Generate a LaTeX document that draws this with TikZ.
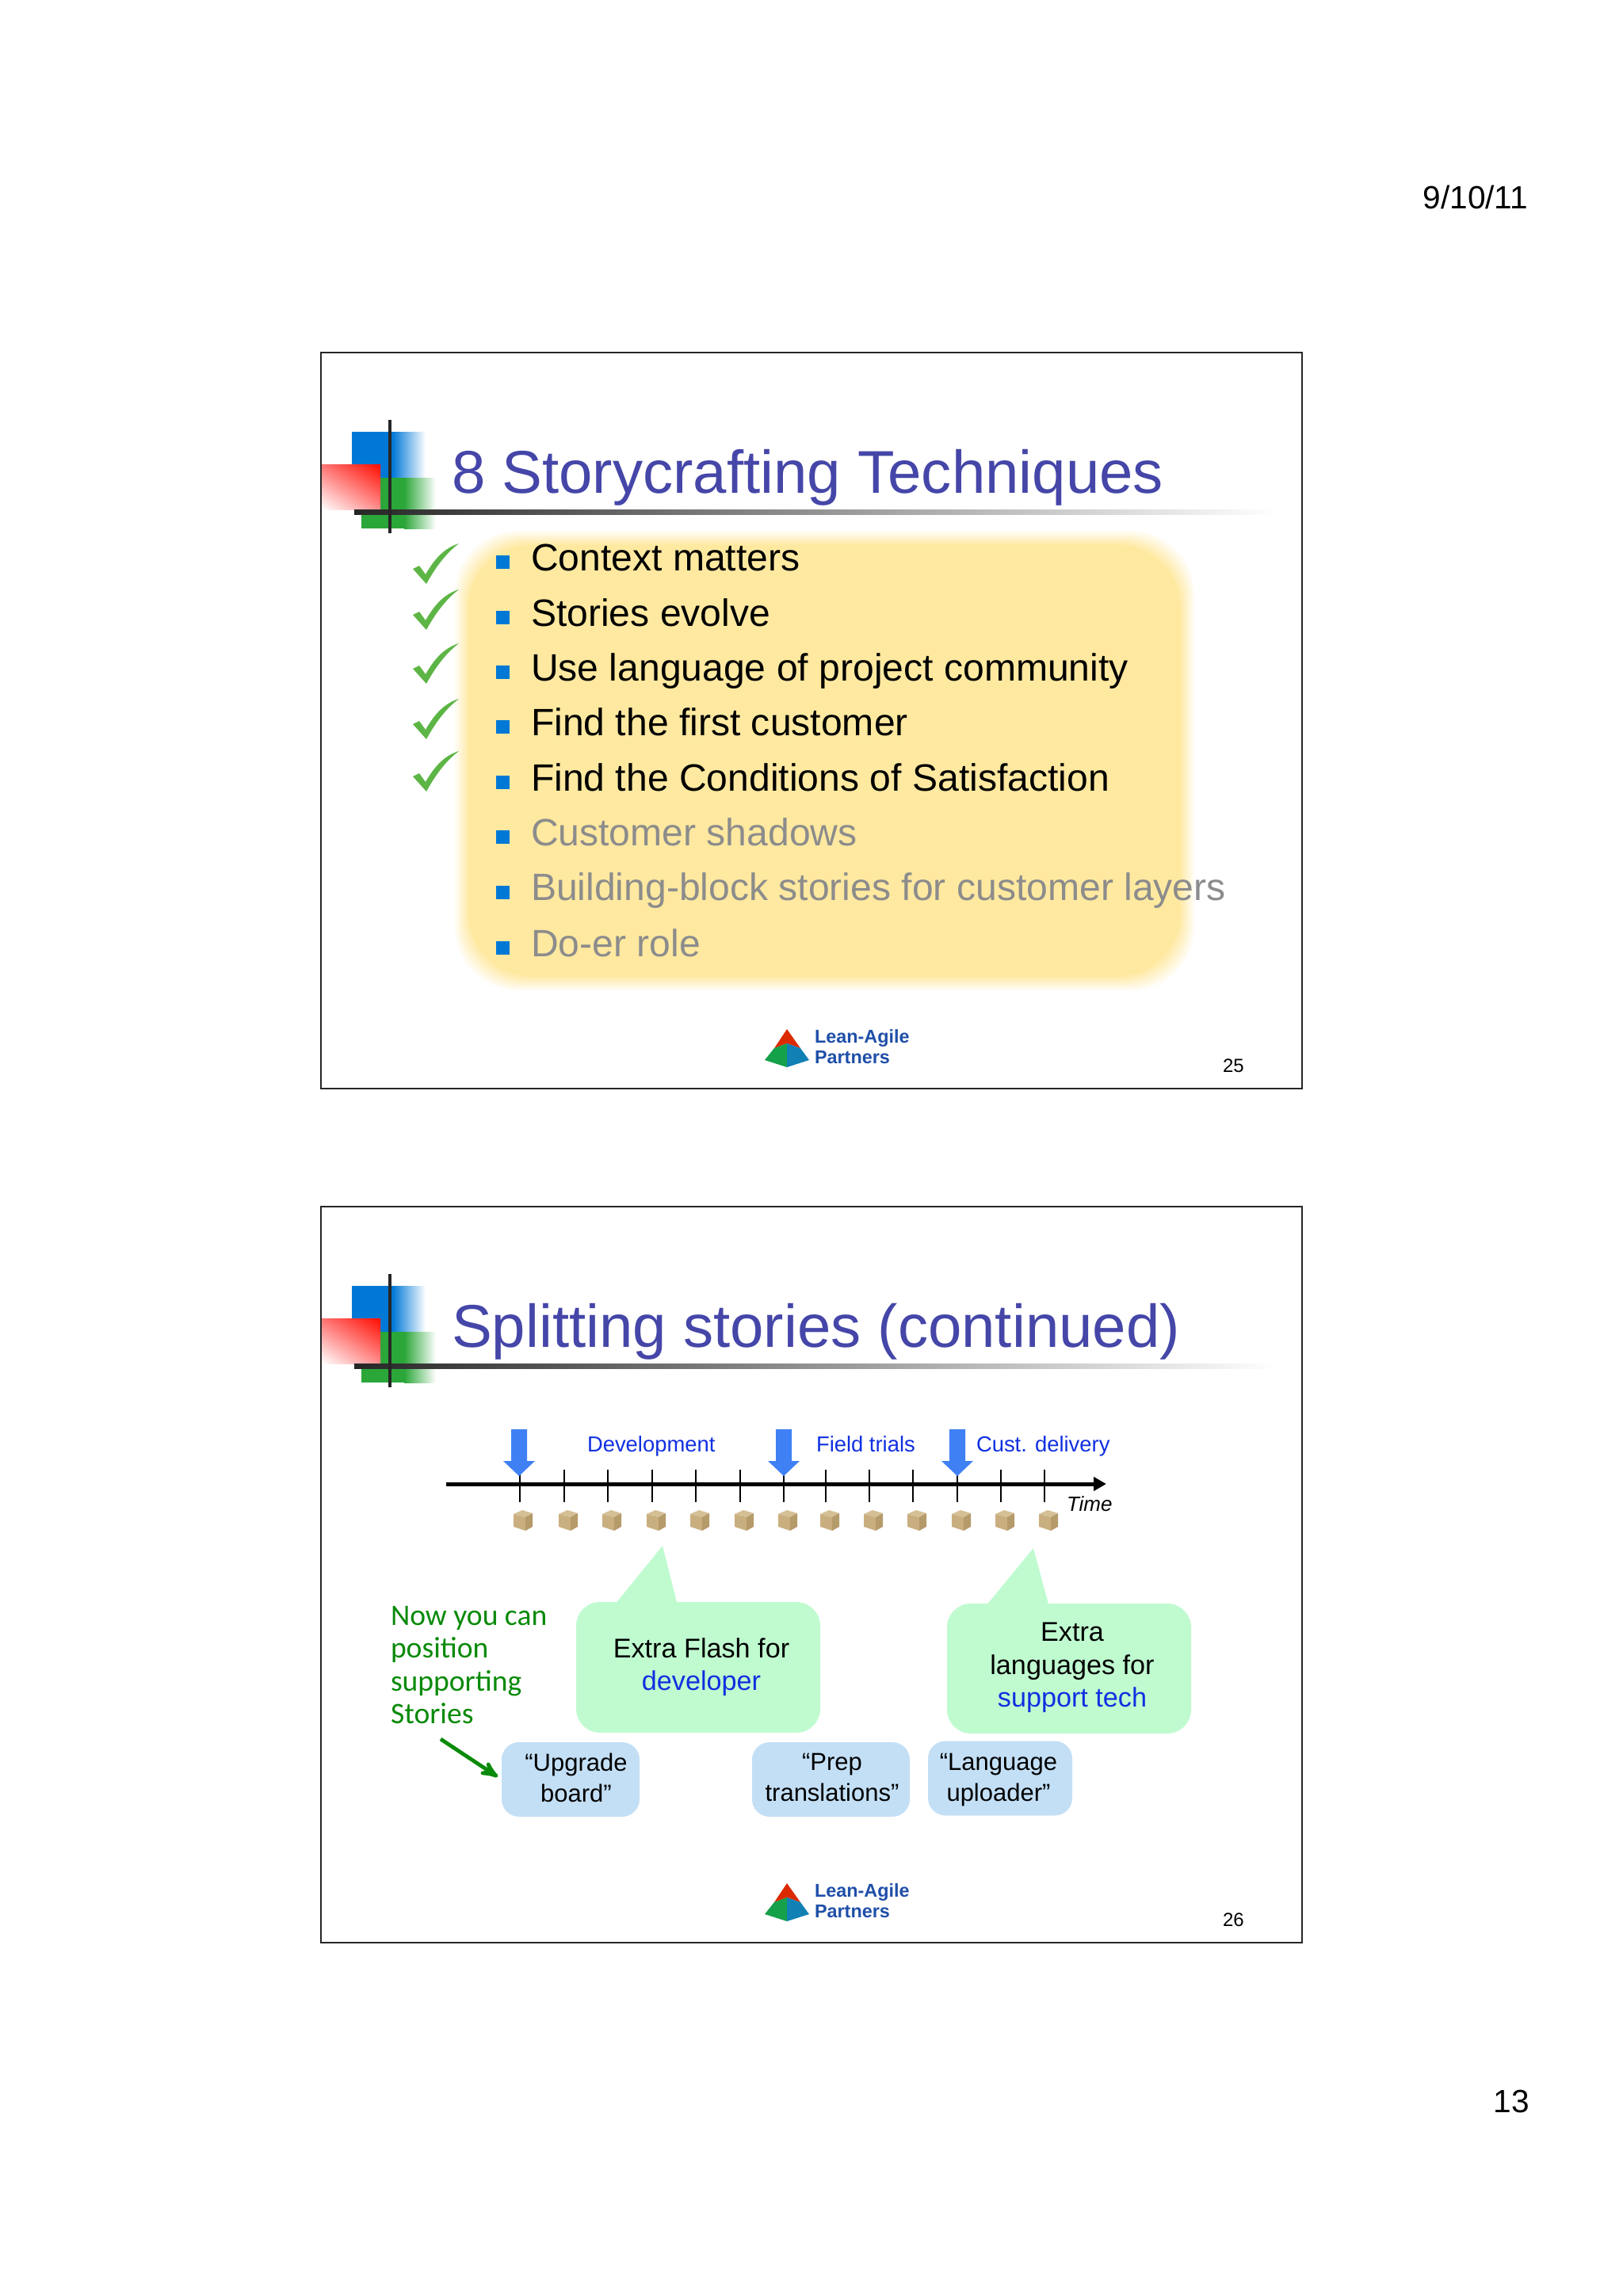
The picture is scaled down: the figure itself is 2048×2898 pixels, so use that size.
\documentclass[tikz,border=0pt]{standalone}
\usepackage{fontspec}
\setmainfont{Liberation Sans}
\newfontfamily\handfont{Carlito}
\usetikzlibrary{arrows,arrows.meta,shadings}
\definecolor{titleblue}{HTML}{4546A8}
\definecolor{squareblue}{HTML}{0078D6}
\definecolor{squaregreen}{HTML}{2BA638}
\definecolor{blobyellow}{HTML}{FFE9A0}
\definecolor{checkgreen}{HTML}{5DB545}
\definecolor{linkblue}{HTML}{1030E0}
\definecolor{markerblue}{HTML}{4080F5}
\definecolor{bubblegreen}{HTML}{C0FBD0}
\definecolor{boxblue}{HTML}{C3DFF6}
\definecolor{logoblue}{HTML}{1F4FA8}
\definecolor{logored}{HTML}{DC2A00}
\definecolor{logogreen}{HTML}{15A04A}
\definecolor{logoteal}{HTML}{1080B5}
\definecolor{handgreen}{HTML}{0A8A0A}
\definecolor{cratetop}{HTML}{D5BF95}
\definecolor{crateleft}{HTML}{C9AF80}
\definecolor{crateright}{HTML}{B59A6A}
\begin{document}
\begin{tikzpicture}[x=0.5pt,y=-0.5pt,
  every node/.style={inner sep=0pt,outer sep=0pt},
  title text/.style={anchor=base west,titleblue,font=\fontsize{38.1}{38}\selectfont},
  item text/.style={anchor=base west,font=\fontsize{24.05}{24}\selectfont},
  later text/.style={item text,black!45},
  page text/.style={anchor=base east,font=\fontsize{20.3}{20}\selectfont},
  logo text/.style={anchor=base west,logoblue,font=\fontsize{11.7}{11.5}\bfseries\selectfont},
  phase text/.style={anchor=base west,linkblue,font=\fontsize{13.7}{13.7}\selectfont},
  bubble node/.style={fill=bubblegreen,rounded corners=15pt},
  bubble text/.style={align=center,font=\fontsize{17.1}{20.7}\selectfont},
  story node/.style={fill=boxblue,rounded corners=11pt,minimum height=47pt},
  story text/.style={align=center,font=\fontsize{15.5}{19.5}\selectfont},
  hand text/.style={anchor=base west,handgreen,font=\fontsize{18.8}{20}\handfont\selectfont}]
  \useasboundingbox (0,0) rectangle (2048,2898);
  \fill[white] (0,0) rectangle (2048,2898);

  \node[page text] at (1928,263) (date) {9/10/11};
  \node[page text] at (1930,2666) (sheet) {13};

  % the two slides share frame, corner squares, rule and logo
  \foreach \o/\n/\t in {0/25/8 Storycrafting Techniques,1078/26/Splitting stories (continued)} {
    \begin{scope}[shift={(0,\o)}]
      \draw[black!85,line width=1pt] (405,445) rectangle (1643,1374);
      \fill[squareblue] (444,545) rectangle (495,603);
      \shade[left color=squareblue,right color=white] (495,545) rectangle (537,603);
      \fill[squaregreen] (456,603) rectangle (510,667);
      \shade[left color=squaregreen,right color=white] (510,603) rectangle (550,667);
      \shade[lower left=white,upper right=red!90!orange,upper left=red!55!white,lower right=red!45!white] (406,586) rectangle (480,643);
      \shade[left color=black!85,right color=white] (447,643) rectangle (1610,649);
      \fill[black!85] (490,530) rectangle (494,673);
      \node[title text] at (570,622) (title\n) {\t};
      % logo
      \fill[logored] (993,1299) -- (977,1323) -- (993,1317) -- (1010,1323) -- cycle;
      \fill[logogreen] (977,1323) -- (993,1317) -- (993,1347) -- (965,1338) -- cycle;
      \fill[logoteal] (1010,1323) -- (993,1317) -- (993,1347) -- (1021,1338) -- cycle;
      \node[logo text] at (1028,1316) (lean\n) {Lean-Agile};
      \node[logo text] at (1028,1342) (partners\n) {Partners};
      \node[anchor=base west,font=\fontsize{12}{12}\selectfont] at (1543,1353) (number\n) {\n};
    \end{scope}
  }

  % slide 25
  \foreach \i in {0,...,7} {
    \pgfmathtruncatemacro{\p}{(\i+1)*12.5}
    \fill[blobyellow!\p!white,rounded corners=40pt] ({584+2.5*\i-10},{680+2.5*\i-10}) rectangle ({1497-2.5*\i+10},{1240-2.5*\i+10});
  }
  \foreach \y in {737,795,863,933,999} {
    \fill[checkgreen,shift={(0,\y)}] (521,-19) -- (529,-23) -- (537,-12) .. controls (548,-31) and (560,-45) .. (579,-51) .. controls (562,-38) and (549,-20) .. (538,0) -- cycle;
  }
  \foreach \y in {720,790,859,928,998,1067,1137,1207} {
    \fill[squareblue] (626,\y-19) rectangle (643,\y-2);
  }
  \node[item text] at (670,720) (context) {Context matters};
  \node[item text] at (670,790) (evolve) {Stories evolve};
  \node[item text] at (670,859) (language) {Use language of project community};
  \node[item text] at (670,928) (first) {Find the first customer};
  \node[item text] at (670,998) (conditions) {Find the Conditions of Satisfaction};
  \node[later text] at (670,1067) (shadows) {Customer shadows};
  \node[later text] at (670,1136) (building) {Building-block stories for customer layers};
  \node[later text] at (670,1207) (doer) {Do-er role};

  % slide 26, time line
  \coordinate (axisstart) at (563,1873);
  \coordinate (axisend) at (1396,1873);
  \foreach \x in {656,712,767,823,878,934,989,1042,1097,1152,1208,1263,1318} {
    \draw[black,line width=0.6pt] (\x,1855) -- (\x,1896);
  }
  \draw[-{Triangle[length=8pt,width=8.5pt]},line width=2.5pt] (axisstart) -- (axisend);
  \foreach \x in {655,989,1208} {
    \fill[markerblue,shift={(\x,0)}] (-10,1804) -- (10,1804) -- (10,1844) -- (20,1844) -- (0,1863) -- (-20,1844) -- (-10,1844) -- cycle;
  }
  \foreach \x in {660,717,772,828,883,939,994,1047,1102,1157,1213,1268,1323} {
    \begin{scope}[shift={(\x,0)}]
      \fill[cratetop] (-12,1911) -- (-1,1906) -- (12,1910) -- (3,1915) -- cycle;
      \fill[crateleft] (-12,1911) -- (3,1915) -- (3,1932) -- (-12,1927) -- cycle;
      \fill[crateright] (3,1915) -- (12,1910) -- (12,1927) -- (3,1932) -- cycle;
    \end{scope}
  }
  \node[phase text] at (741,1832) (development) {Development};
  \node[phase text] at (1030,1832) (trials) {Field trials};
  \node[phase text] at (1232,1832) (delivery) {Cust. delivery};
  \node[anchor=base west,font=\fontsize{13}{13}\itshape\selectfont] at (1346,1907) (time) {Time};

  % bubbles with their tails
  \fill[bubblegreen] (772,2030) -- (836,1951) -- (856,2030) -- cycle;
  \fill[bubblegreen] (1240,2032) -- (1304,1954) -- (1325,2032) -- cycle;
  \node[bubble node,minimum width=154pt,minimum height=82.5pt] at (881,2104.5) (flash) {};
  \node[bubble node,minimum width=154pt,minimum height=82pt] at (1349,2106) (extra) {};
  \node[bubble text] at (885,2104) (flashtext) {Extra Flash for\\\textcolor{linkblue}{developer}};
  \node[bubble text] at (1353,2105) (extratext) {Extra\\languages for\\\textcolor{linkblue}{support tech}};

  \node[story node,minimum width=87pt] at (720,2246) (upgrade) {};
  \node[story node,minimum width=99.5pt] at (1048.5,2246) (prep) {};
  \node[story node,minimum width=91pt] at (1262,2244.5) (uploader) {};
  \node[story text] at (727,2244) (upgradetext) {“Upgrade\\board”};
  \node[story text] at (1050,2243) (preptext) {“Prep\\translations”};
  \node[story text] at (1260,2247) (uploadertext) {“Language\\uploader”};

  \node[hand text] at (493,2051) (now) {Now you can};
  \node[hand text] at (493,2092) (position) {position};
  \node[hand text] at (493,2134) (supporting) {supporting};
  \node[hand text] at (493,2175) (stories) {Stories};
  \coordinate (handstart) at (556,2195);
  \draw[->,>=stealth',handgreen,line width=2.4pt,shorten >=3pt] (handstart) -- (upgrade.west);
\end{tikzpicture}
\end{document}
